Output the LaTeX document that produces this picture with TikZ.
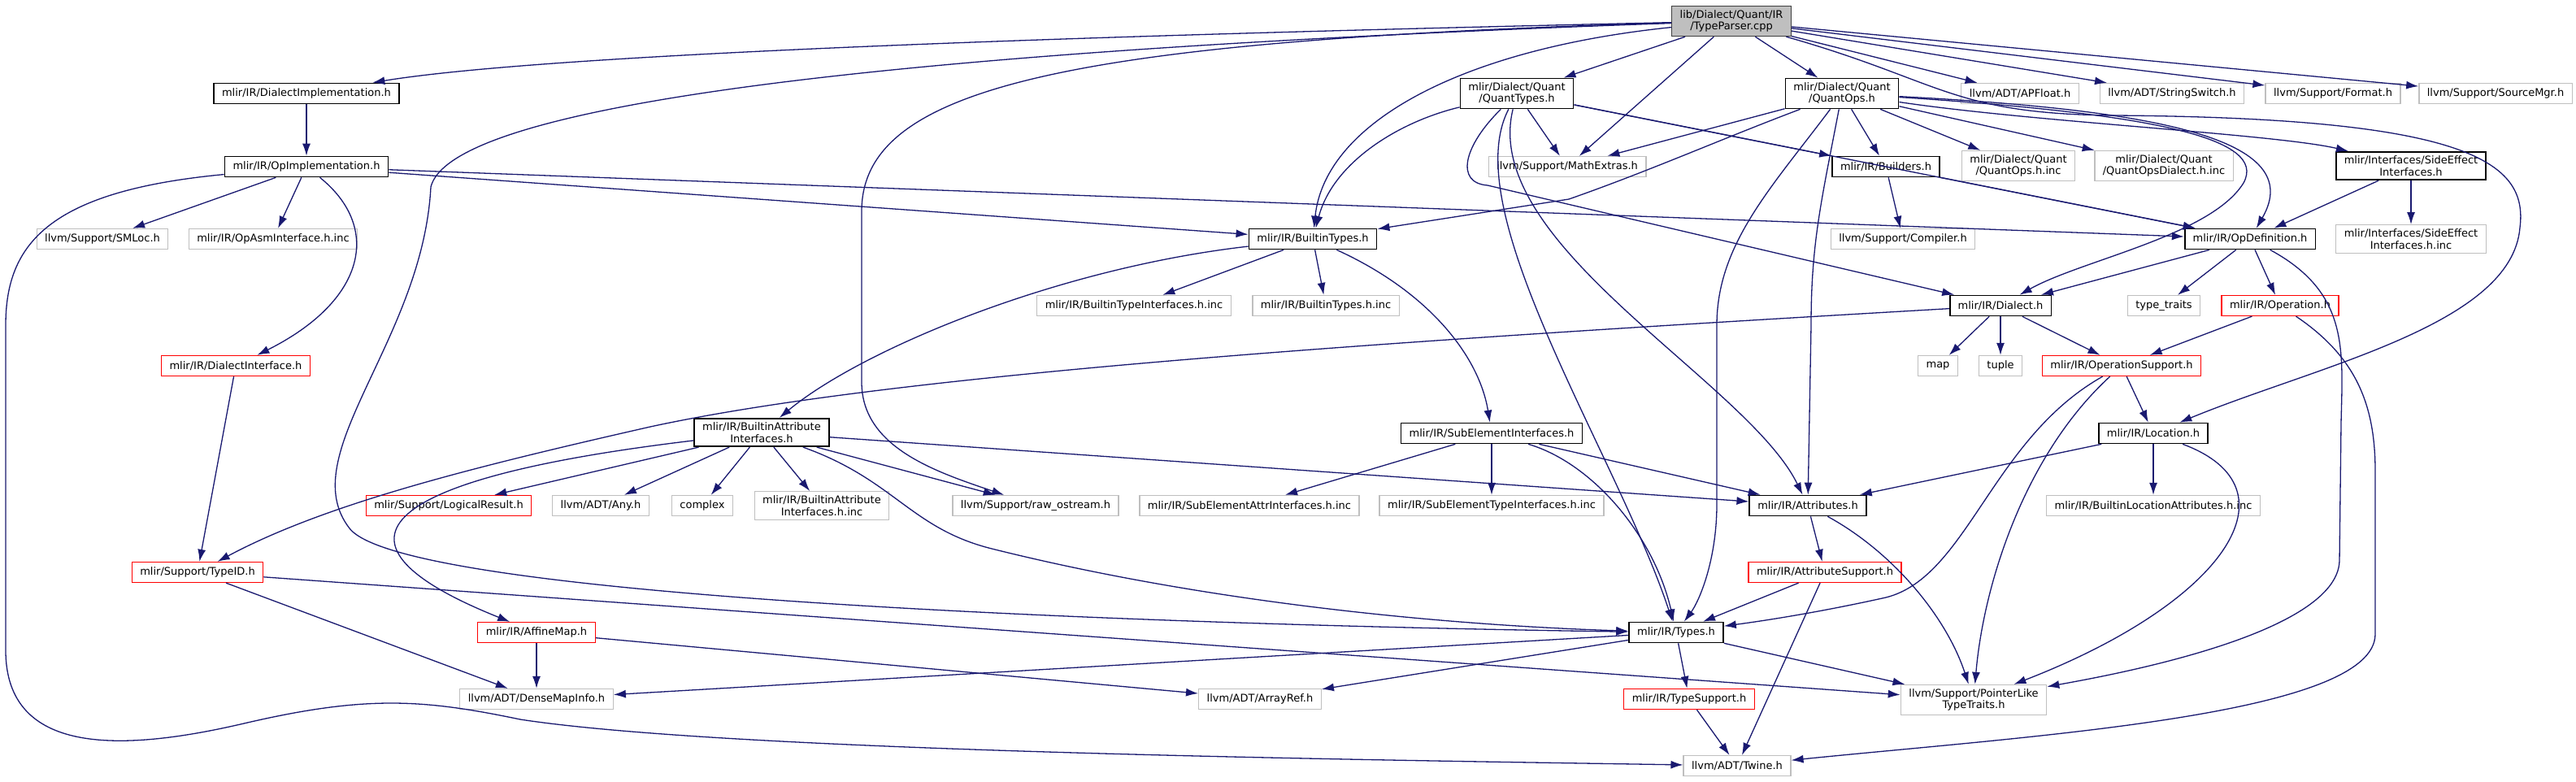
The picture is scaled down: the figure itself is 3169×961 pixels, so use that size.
\documentclass[tikz,border=0pt]{standalone}
\usepackage{fontspec}
\setmainfont{DejaVu Sans}
\usetikzlibrary{arrows.meta}
\definecolor{edgeblue}{HTML}{191970}
\definecolor{extgray}{HTML}{BFBFBF}
\definecolor{rootedge}{HTML}{404040}

\begin{document}
\begin{tikzpicture}[x=1pt, y=-1pt, >={Latex[length=15pt,width=10pt]},
    file/.style={draw, rectangle, fill=white, line width=1.3pt, inner xsep=10pt, inner ysep=5pt, minimum height=25pt, align=center, font=\fontsize{13}{14.5}\selectfont},
    hdr/.style={file, draw=black, line width=1.7pt},
    ext/.style={file, draw=extgray},
    trunc/.style={file, draw=red},
    root/.style={file, fill=extgray, draw=rootedge},
    edge/.style={->, draw=edgeblue, line width=1.3pt}]
    \useasboundingbox[fill=white] (0,0) rectangle (3169,961);
    % Source file
    \node[root] (tp) at (2130,26) {lib/Dialect/Quant/IR\\/TypeParser.cpp};
    % Row 1
    \node[hdr] (dimpl) at (377,115) {mlir/IR/DialectImplementation.h};
    \node[hdr] (qtypes) at (1866,115) {mlir/Dialect/Quant\\/QuantTypes.h};
    \node[hdr] (qops) at (2266,115) {mlir/Dialect/Quant\\/QuantOps.h};
    \node[ext] (apfloat) at (2485,115) {llvm/ADT/APFloat.h};
    \node[ext] (strsw) at (2672,115) {llvm/ADT/StringSwitch.h};
    \node[ext] (format) at (2870,115) {llvm/Support/Format.h};
    \node[ext] (srcmgr) at (3070,115) {llvm/Support/SourceMgr.h};
    % Row 2
    \node[hdr] (opimpl) at (377,205) {mlir/IR/OpImplementation.h};
    \node[ext] (mathx) at (1928,205) {llvm/Support/MathExtras.h};
    \node[hdr] (builders) at (2320,205) {mlir/IR/Builders.h};
    \node[ext] (qopsinc) at (2483,204) {mlir/Dialect/Quant\\/QuantOps.h.inc};
    \node[ext] (qdialinc) at (2662,204) {mlir/Dialect/Quant\\/QuantOpsDialect.h.inc};
    \node[hdr] (sideeff) at (2966,204) {mlir/Interfaces/SideEffect\\Interfaces.h};
    % Row 3
    \node[ext] (smloc) at (126,294) {llvm/Support/SMLoc.h};
    \node[ext] (opasm) at (336,294) {mlir/IR/OpAsmInterface.h.inc};
    \node[hdr] (btypes) at (1615,294) {mlir/IR/BuiltinTypes.h};
    \node[ext] (compiler) at (2341,294) {llvm/Support/Compiler.h};
    \node[hdr] (opdef) at (2768,294) {mlir/IR/OpDefinition.h};
    \node[ext] (sideinc) at (2966,294) {mlir/Interfaces/SideEffect\\Interfaces.h.inc};
    % Row 4
    \node[ext] (btiinc) at (1395,376) {mlir/IR/BuiltinTypeInterfaces.h.inc};
    \node[ext] (btinc) at (1631,376) {mlir/IR/BuiltinTypes.h.inc};
    \node[hdr] (dialect) at (2461,376) {mlir/IR/Dialect.h};
    \node[ext] (typetraits) at (2662,376) {type\_traits};
    \node[trunc] (operation) at (2805,376) {mlir/IR/Operation.h};
    % Row 5
    \node[trunc] (dialintf) at (290,450) {mlir/IR/DialectInterface.h};
    \node[ext] (map) at (2384,450) {map};
    \node[ext] (tuple) at (2461,450) {tuple};
    \node[trunc] (opsupport) at (2610,450) {mlir/IR/OperationSupport.h};
    % Row 6
    \node[hdr] (bai) at (937,532) {mlir/IR/BuiltinAttribute\\Interfaces.h};
    \node[hdr] (subelem) at (1835,533) {mlir/IR/SubElementInterfaces.h};
    \node[hdr] (location) at (2649,533) {mlir/IR/Location.h};
    % Row 7
    \node[trunc] (logres) at (552,622) {mlir/Support/LogicalResult.h};
    \node[ext] (any) at (739,622) {llvm/ADT/Any.h};
    \node[ext] (complex) at (864,622) {complex};
    \node[ext] (baiinc) at (1011,622) {mlir/IR/BuiltinAttribute\\Interfaces.h.inc};
    \node[ext] (rawos) at (1274,622) {llvm/Support/raw\_ostream.h};
    \node[ext] (seattr) at (1537,622) {mlir/IR/SubElementAttrInterfaces.h.inc};
    \node[ext] (setype) at (1835,622) {mlir/IR/SubElementTypeInterfaces.h.inc};
    \node[hdr] (attrs) at (2224,622) {mlir/IR/Attributes.h};
    \node[ext] (blocinc) at (2649,622) {mlir/IR/BuiltinLocationAttributes.h.inc};
    % Rows 8 to 11
    \node[trunc] (typeid) at (243,704) {mlir/Support/TypeID.h};
    \node[trunc] (attrsup) at (2245,704) {mlir/IR/AttributeSupport.h};
    \node[trunc] (affine) at (660,778) {mlir/IR/AffineMap.h};
    \node[hdr] (types) at (2062,778) {mlir/IR/Types.h};
    \node[ext] (dmi) at (660,860) {llvm/ADT/DenseMapInfo.h};
    \node[ext] (arrayref) at (1550,860) {llvm/ADT/ArrayRef.h};
    \node[trunc] (typesup) at (2078,860) {mlir/IR/TypeSupport.h};
    \node[ext] (ptrlike) at (2428,861) {llvm/Support/PointerLike\\TypeTraits.h};
    \node[ext] (twine) at (2137,942) {llvm/ADT/Twine.h};
    % Includes of the source file
    \draw[edge] (tp) .. controls (1500,40) and (700,62) .. (dimpl);
    \draw[edge] (tp) .. controls (1300,55) and (560,110) .. (530,230) .. controls (520,420) and (360,560) .. (430,650) .. controls (500,740) and (1500,770) .. (types);
    \draw[edge] (tp) .. controls (1800,60) and (1630,150) .. (btypes);
    \draw[edge] (tp) .. controls (1300,50) and (1060,110) .. (1060,260) -- (1060,470) .. controls (1060,550) and (1150,580) .. (rawos);
    \draw[edge] (tp) -- (qtypes);
    \draw[edge] (tp) -- (mathx);
    \draw[edge] (tp) -- (qops);
    \draw[edge] (tp) -- (apfloat);
    \draw[edge] (tp) -- (strsw);
    \draw[edge] (tp) -- (format);
    \draw[edge] (tp) -- (srcmgr);
    \draw[edge] (tp) .. controls (2390,100) and (2400,140) .. (2600,142) .. controls (3040,145) and (3110,200) .. (3100,280) .. controls (3090,400) and (2850,450) .. (location);
    % QuantTypes.h
    \draw[edge] (qtypes) .. controls (1720,150) and (1640,200) .. (btypes);
    \draw[edge] (qtypes) -- (mathx);
    \draw[edge] (qtypes) -- (builders);
    \draw[edge] (qtypes) -- (opdef);
    \draw[edge] (qtypes) .. controls (1800,180) and (1790,225) .. (1830,228) -- (dialect);
    \draw[edge] (qtypes) .. controls (1790,260) and (1990,560) .. (types);
    \draw[edge] (qtypes) .. controls (1820,300) and (2150,470) .. (attrs);
    % QuantOps.h
    \draw[edge] (qops) .. controls (2120,170) and (2030,210) .. (1930,245) -- (btypes);
    \draw[edge] (qops) -- (mathx);
    \draw[edge] (qops) .. controls (2180,230) and (2112,300) .. (2112,400) -- (2112,620) .. controls (2112,690) and (2090,740) .. (types);
    \draw[edge] (qops) .. controls (2240,250) and (2228,300) .. (2228,400) -- (attrs);
    \draw[edge] (qops) -- (builders);
    \draw[edge] (qops) -- (qopsinc);
    \draw[edge] (qops) -- (qdialinc);
    \draw[edge] (qops) .. controls (2500,150) and (2800,165) .. (sideeff);
    \draw[edge] (qops) .. controls (2650,135) and (2840,170) .. (opdef);
    \draw[edge] (qops) .. controls (2650,140) and (2790,170) .. (2760,225) .. controls (2720,290) and (2560,320) .. (dialect);
    \draw[edge] (builders) -- (compiler);
    \draw[edge] (builders) -- (opdef);
    \draw[edge] (sideeff) -- (opdef);
    \draw[edge] (sideeff) -- (sideinc);
    % DialectImplementation.h and OpImplementation.h
    \draw[edge] (dimpl) -- (opimpl);
    \draw[edge] (opimpl) -- (smloc);
    \draw[edge] (opimpl) -- (opasm);
    \draw[edge] (opimpl) .. controls (470,280) and (450,370) .. (dialintf);
    \draw[edge] (opimpl) -- (btypes);
    \draw[edge] (opimpl) -- (opdef);
    \draw[edge] (opimpl) .. controls (60,235) and (7,300) .. (7,400) -- (7,800) .. controls (7,930) and (150,925) .. (300,890) .. controls (450,855) and (520,860) .. (640,885) .. controls (900,925) and (1700,935) .. (twine);
    % BuiltinTypes.h
    \draw[edge] (btypes) -- (btiinc);
    \draw[edge] (btypes) -- (btinc);
    \draw[edge] (btypes) .. controls (1300,330) and (1060,430) .. (bai);
    \draw[edge] (btypes) .. controls (1760,360) and (1820,440) .. (subelem);
    % Dialect.h, OpDefinition.h, Operation.h
    \draw[edge] (dialect) -- (map);
    \draw[edge] (dialect) -- (tuple);
    \draw[edge] (dialect) -- (opsupport);
    \draw[edge] (dialect) .. controls (1700,420) and (1100,460) .. (800,525) .. controls (580,575) and (400,620) .. (typeid);
    \draw[edge] (opdef) -- (dialect);
    \draw[edge] (opdef) -- (typetraits);
    \draw[edge] (opdef) -- (operation);
    \draw[edge] (opdef) .. controls (2890,360) and (2882,430) .. (2880,520) -- (2878,690) .. controls (2875,780) and (2600,830) .. (ptrlike);
    \draw[edge] (operation) -- (opsupport);
    \draw[edge] (operation) .. controls (2900,440) and (2922,500) .. (2922,580) -- (2922,780) .. controls (2922,880) and (2500,905) .. (twine);
    % OperationSupport.h and Location.h
    \draw[edge] (opsupport) -- (location);
    \draw[edge] (opsupport) .. controls (2450,540) and (2420,710) .. (2320,735) .. controls (2230,755) and (2160,765) .. (types);
    \draw[edge] (opsupport) .. controls (2490,560) and (2440,720) .. (ptrlike);
    \draw[edge] (location) -- (attrs);
    \draw[edge] (location) -- (blocinc);
    \draw[edge] (location) .. controls (2830,600) and (2740,740) .. (ptrlike);
    % BuiltinAttributeInterfaces.h
    \draw[edge] (bai) -- (logres);
    \draw[edge] (bai) -- (any);
    \draw[edge] (bai) -- (complex);
    \draw[edge] (bai) -- (baiinc);
    \draw[edge] (bai) -- (rawos);
    \draw[edge] (bai) -- (attrs);
    \draw[edge] (bai) .. controls (450,590) and (390,670) .. (affine);
    \draw[edge] (bai) .. controls (1100,590) and (1120,650) .. (1220,675) .. controls (1500,745) and (1800,770) .. (types);
    % SubElementInterfaces.h
    \draw[edge] (subelem) -- (seattr);
    \draw[edge] (subelem) -- (setype);
    \draw[edge] (subelem) -- (attrs);
    \draw[edge] (subelem) .. controls (1960,570) and (2035,660) .. (types);
    % lower part
    \draw[edge] (dialintf) -- (typeid);
    \draw[edge] (typeid) -- (dmi);
    \draw[edge] (typeid) -- (ptrlike);
    \draw[edge] (affine) -- (dmi);
    \draw[edge] (affine) -- (arrayref);
    \draw[edge] (attrs) -- (attrsup);
    \draw[edge] (attrs) .. controls (2330,680) and (2395,760) .. (ptrlike);
    \draw[edge] (attrsup) -- (types);
    \draw[edge] (attrsup) -- (twine);
    \draw[edge] (types) -- (dmi);
    \draw[edge] (types) -- (arrayref);
    \draw[edge] (types) -- (typesup);
    \draw[edge] (types) -- (ptrlike);
    \draw[edge] (typesup) -- (twine);
\end{tikzpicture}
\end{document}
